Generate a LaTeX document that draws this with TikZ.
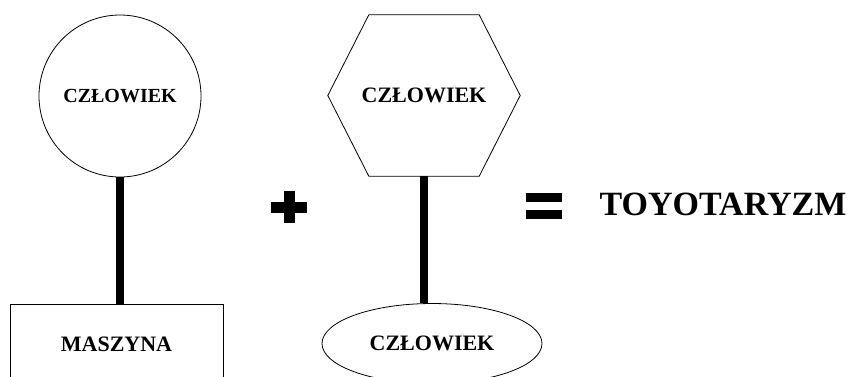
\documentclass[tikz,border=0pt]{standalone}
\usepackage{fontspec}
\setmainfont{Liberation Serif}
\usetikzlibrary{shapes.geometric,calc}

\begin{document}
\begin{tikzpicture}[x=1pt,y=-1pt,
  lbl/.style={font=\bfseries\fontsize{22}{26}\selectfont, inner sep=0pt},
  outline/.style={draw, line width=0.8pt},
  link/.style={line width=8pt}]
  \useasboundingbox (0,0) rectangle (853,376);
  % left: czlowiek on maszyna
  \node[outline, circle, minimum size=162pt, lbl, font=\bfseries\fontsize{20}{24}\selectfont] (man) at (120,96) {CZŁOWIEK};
  \node[outline, rectangle, minimum width=213pt, minimum height=80pt, lbl] (machine) at (116.5,344) {MASZYNA};
  \draw[link] (man.south) -- (man.south |- machine.north);
  % plus
  \coordinate (plus) at (289,207);
  \fill ($(plus)+(-18,-5.5)$) rectangle ++(36,11);
  \fill ($(plus)+(-5.5,-16)$) rectangle ++(11,32);
  % middle: czlowiek on czlowiek
  \node[minimum width=192pt, minimum height=161pt, lbl] (hex) at (424,95.5) {CZŁOWIEK};
  \draw[outline] (hex.west) -- ($(hex.north west)+(41,0)$) -- ($(hex.north east)+(-41,0)$)
    -- (hex.east) -- ($(hex.south east)+(-41,0)$) -- ($(hex.south west)+(41,0)$) -- cycle;
  \node[outline, ellipse, minimum width=220pt, minimum height=80pt, lbl] (worker) at (432,343.5) {CZŁOWIEK};
  \draw[link] (hex.south) -- (hex.south |- worker.north);
  % equals
  \coordinate (eq) at (544,206);
  \fill ($(eq)+(-18,-13)$) rectangle ++(36,9);
  \fill ($(eq)+(-18,4)$) rectangle ++(36,9);
  \node[lbl, font=\bfseries\fontsize{34}{40}\selectfont] (result) at (723,204.5) {TOYOTARYZM};
\end{tikzpicture}
\end{document}
